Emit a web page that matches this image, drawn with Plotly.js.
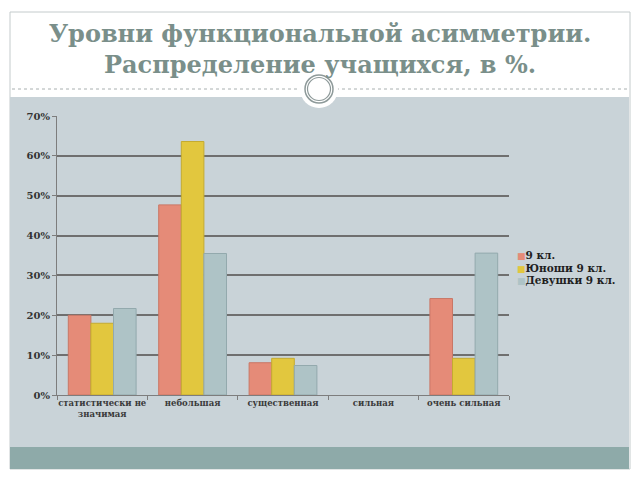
<!DOCTYPE html>
<html>
<head>
<meta charset="utf-8">
<script src="https://cdn.plot.ly/plotly-3.0.1.min.js"></script>
<style>
  html, body { margin: 0; padding: 0; background: #ffffff; }
  #chart { width: 640px; height: 480px; }
</style>
</head>
<body>
<div id="chart"></div>
<script>
const categories = [
  "статистически не<br>значимая",
  "небольшая",
  "существенная",
  "сильная",
  "очень сильная",
];

const seriesNames = ["9 кл.", "Юноши 9 кл.", "Девушки 9 кл."];

const allGrade9 = [20, 47.7, 8.1, 0, 24.2];
const boys9 = [18, 63.6, 9.2, 0, 9.2];
const girls9 = [21.7, 35.5, 7.4, 0, 35.6];

const COLORS = ["#e58b78", "#e2c73e", "#aec3c6"];
const EDGES = ["#c97766", "#c4ab30", "#93a9ad"];

// plot box in pixels, used to place the slide decoration in paper units
const L = 57, R = 509, T = 116, B = 395;
const px = (x) => (x - L) / (R - L);
const py = (y) => (B - y) / (B - T);

const serif = "DejaVu Serif, Liberation Serif, serif";

const traces = [allGrade9, boys9, girls9].map((vals, i) => ({
  type: "bar",
  name: seriesNames[i],
  x: categories,
  y: vals,
  marker: {
    color: COLORS[i],
    line: { color: EDGES[i], width: vals.map((v) => (v ? 1 : 0)) },
  },
  hoverinfo: "x+y+name",
}));

const shapes = [
  // slide frame
  { type: "rect", xref: "paper", yref: "paper", layer: "below",
    x0: px(10), x1: px(630), y0: py(469), y1: py(12),
    fillcolor: "#ffffff", line: { color: "#c4cbcc", width: 1 } },
  // gray-blue panel
  { type: "rect", xref: "paper", yref: "paper", layer: "below",
    x0: px(10), x1: px(629), y0: py(447), y1: py(97),
    fillcolor: "#c9d3d8", line: { width: 0 } },
  // teal band
  { type: "rect", xref: "paper", yref: "paper", layer: "below",
    x0: px(10), x1: px(629), y0: py(469), y1: py(447),
    fillcolor: "#8eaaa9", line: { width: 0 } },
  // dotted divider
  { type: "line", xref: "paper", yref: "paper", layer: "below",
    x0: px(12), x1: px(628), y0: py(89), y1: py(89),
    line: { color: "#a9b0b0", width: 1, dash: "dot" } },
  // white halo round the ring
  { type: "circle", xref: "paper", yref: "paper", layer: "below",
    x0: px(300), x1: px(338), y0: py(108), y1: py(70),
    fillcolor: "#ffffff", line: { width: 0 } },
  // double ring
  { type: "circle", xref: "paper", yref: "paper", layer: "below",
    x0: px(305), x1: px(333), y0: py(103), y1: py(75),
    fillcolor: "#ffffff", line: { color: "#8e9a9a", width: 1.5 } },
  { type: "circle", xref: "paper", yref: "paper", layer: "below",
    x0: px(307.5), x1: px(330.5), y0: py(100.5), y1: py(77.5),
    fillcolor: "#ffffff", line: { color: "#8e9a9a", width: 1.2 } },
];

// compact legend like the slide's: small square right before each name
const legendNotes = seriesNames.map((name, i) => ({
  xref: "paper",
  yref: "paper",
  x: px(515),
  y: py(255 + i * 12.5),
  xanchor: "left",
  yanchor: "middle",
  showarrow: false,
  align: "left",
  text: `<span style="color:${COLORS[i]};font-size:9px">■</span>${name}`,
  font: { family: serif, size: 10.5, color: "#1e1e1e", weight: "bold" },
}));

const layout = {
  width: 640,
  height: 480,
  margin: { l: L, r: 640 - R, t: T, b: 480 - B, pad: 0, autoexpand: false },
  paper_bgcolor: "#ffffff",
  plot_bgcolor: "rgba(0,0,0,0)",
  barmode: "group",
  bargap: 0.25,
  bargroupgap: 0,
  showlegend: false,
  title: {
    text: "Уровни функциональной асимметрии.<br>Распределение учащихся, в %.",
    xref: "container",
    yref: "container",
    x: 0.5,
    xanchor: "center",
    y: 1 - 42 / 480,
    yanchor: "middle",
    font: { family: serif, size: 24, color: "#7a8f8a", weight: "bold" },
  },
  xaxis: {
    type: "category",
    showline: true,
    linecolor: "#7d7d7d",
    linewidth: 1,
    ticks: "outside",
    tickson: "boundaries",
    ticklen: 4,
    tickcolor: "#7d7d7d",
    tickangle: 0,
    showgrid: false,
    automargin: false,
    tickfont: { family: serif, size: 8.5, color: "#3a3a3a", weight: "bold" },
    fixedrange: true,
  },
  yaxis: {
    range: [0, 70],
    dtick: 10,
    ticksuffix: "%",
    showline: true,
    linecolor: "#7d7d7d",
    linewidth: 1,
    ticks: "outside",
    ticklen: 4,
    tickcolor: "#7d7d7d",
    gridcolor: "#6f6f6f",
    gridwidth: 2,
    zeroline: false,
    automargin: false,
    tickfont: { family: serif, size: 10, color: "#333333", weight: "bold" },
    fixedrange: true,
  },
  annotations: legendNotes,
  shapes,
};

Plotly.newPlot("chart", traces, layout, { displayModeBar: false, staticPlot: true });
</script>
</body>
</html>
